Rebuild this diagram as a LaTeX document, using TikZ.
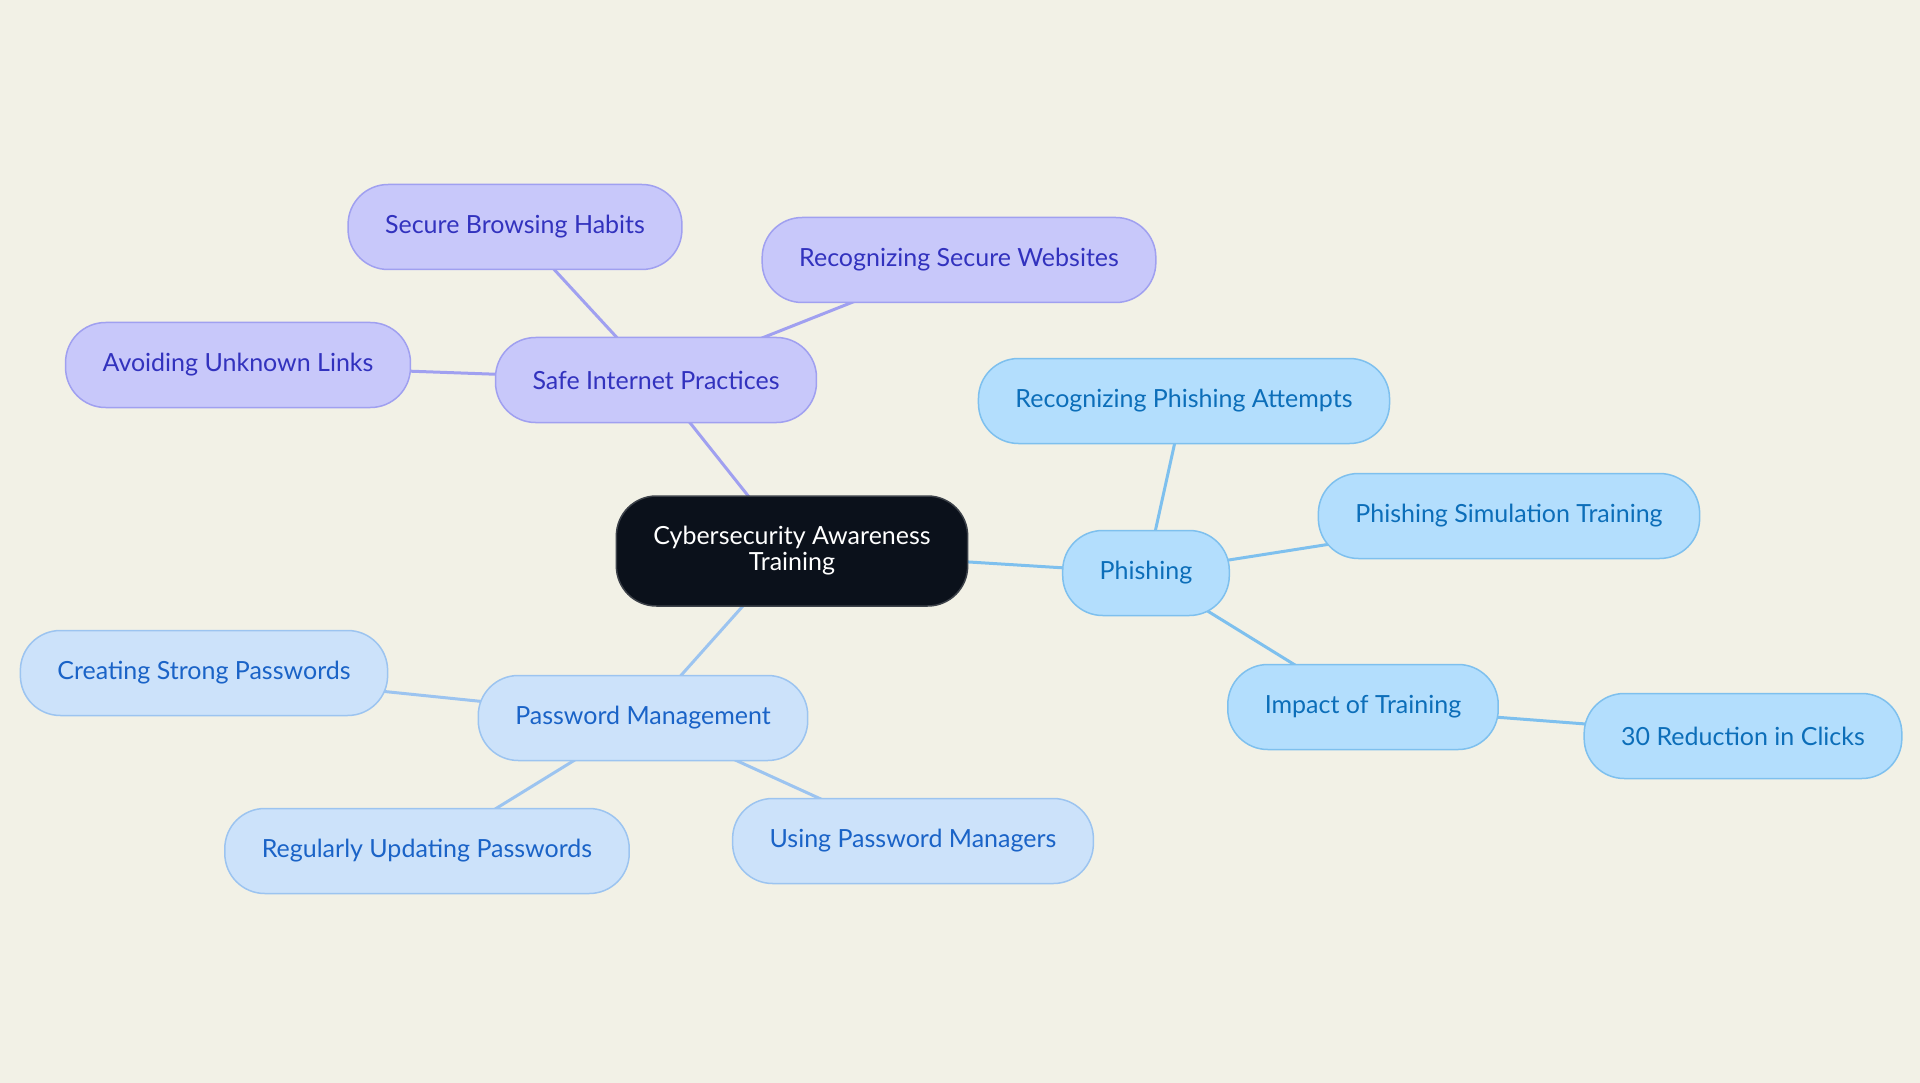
\documentclass[tikz,border=0pt]{standalone}
\usepackage{fontspec}
\setmainfont{Lato}
\usetikzlibrary{backgrounds}
\definecolor{bgcol}{RGB}{242,241,230}
\definecolor{rootfill}{RGB}{11,17,27}
\definecolor{purfill}{RGB}{200,200,250}
\definecolor{purline}{RGB}{160,160,240}
\definecolor{purtext}{RGB}{50,50,190}
\definecolor{phfill}{RGB}{179,222,253}
\definecolor{phline}{RGB}{126,192,238}
\definecolor{phtext}{RGB}{12,110,185}
\definecolor{pwfill}{RGB}{204,226,250}
\definecolor{pwline}{RGB}{156,196,240}
\definecolor{pwtext}{RGB}{26,99,199}

\begin{document}
\begin{tikzpicture}[x=1pt, y=-1pt,
  every node/.style={font=\fontsize{25}{26}\selectfont, minimum height=85pt,
    rounded corners=40pt, inner xsep=37pt, line width=1.5pt, align=center},
  root/.style={fill=rootfill, draw=rootfill!80!white, text=white, minimum height=110pt},
  purbox/.style={fill=purfill, draw=purline, text=purtext},
  phbox/.style={fill=phfill, draw=phline, text=phtext},
  pwbox/.style={fill=pwfill, draw=pwline, text=pwtext},
  link/.style={line width=3pt}]
\useasboundingbox (0,0) rectangle (1920,1083);

\node[root] (cat) at (792,551) {Cybersecurity Awareness\\Training};

% safe internet branch
\node[purbox] (safe) at (656,380) {Safe Internet Practices};
\node[purbox] (browse) at (515,227) {Secure Browsing Habits};
\node[purbox] (websites) at (959,260) {Recognizing Secure Websites};
\node[purbox] (links) at (238,365) {Avoiding Unknown Links};

% phishing branch
\node[phbox] (phish) at (1146,573) {Phishing};
\node[phbox] (attempts) at (1184,401) {Recognizing Phishing Attempts};
\node[phbox] (simul) at (1509,516) {Phishing Simulation Training};
\node[phbox] (impact) at (1363,707) {Impact of Training};
\node[phbox] (clicks) at (1743,736) {30 Reduction in Clicks};

% password branch
\node[pwbox] (pwd) at (643,718) {Password Management};
\node[pwbox] (strong) at (204,673) {Creating Strong Passwords};
\node[pwbox] (update) at (427,851) {Regularly Updating Passwords};
\node[pwbox] (managers) at (913,841) {Using Password Managers};

\begin{pgfonlayer}{background}
\fill[bgcol] (0,0) rectangle (1920,1083);
\draw[link, purline] (cat.center) -- (safe.center);
\foreach \n in {browse,websites,links}
  \draw[link, purline] (safe.center) -- (\n.center);
\draw[link, phline] (cat.center) -- (phish.center);
\foreach \n in {attempts,simul,impact}
  \draw[link, phline] (phish.center) -- (\n.center);
\draw[link, phline] (impact.center) -- (clicks.center);
\draw[link, pwline] (cat.center) -- (pwd.center);
\foreach \n in {strong,update,managers}
  \draw[link, pwline] (pwd.center) -- (\n.center);
\end{pgfonlayer}
\end{tikzpicture}
\end{document}
